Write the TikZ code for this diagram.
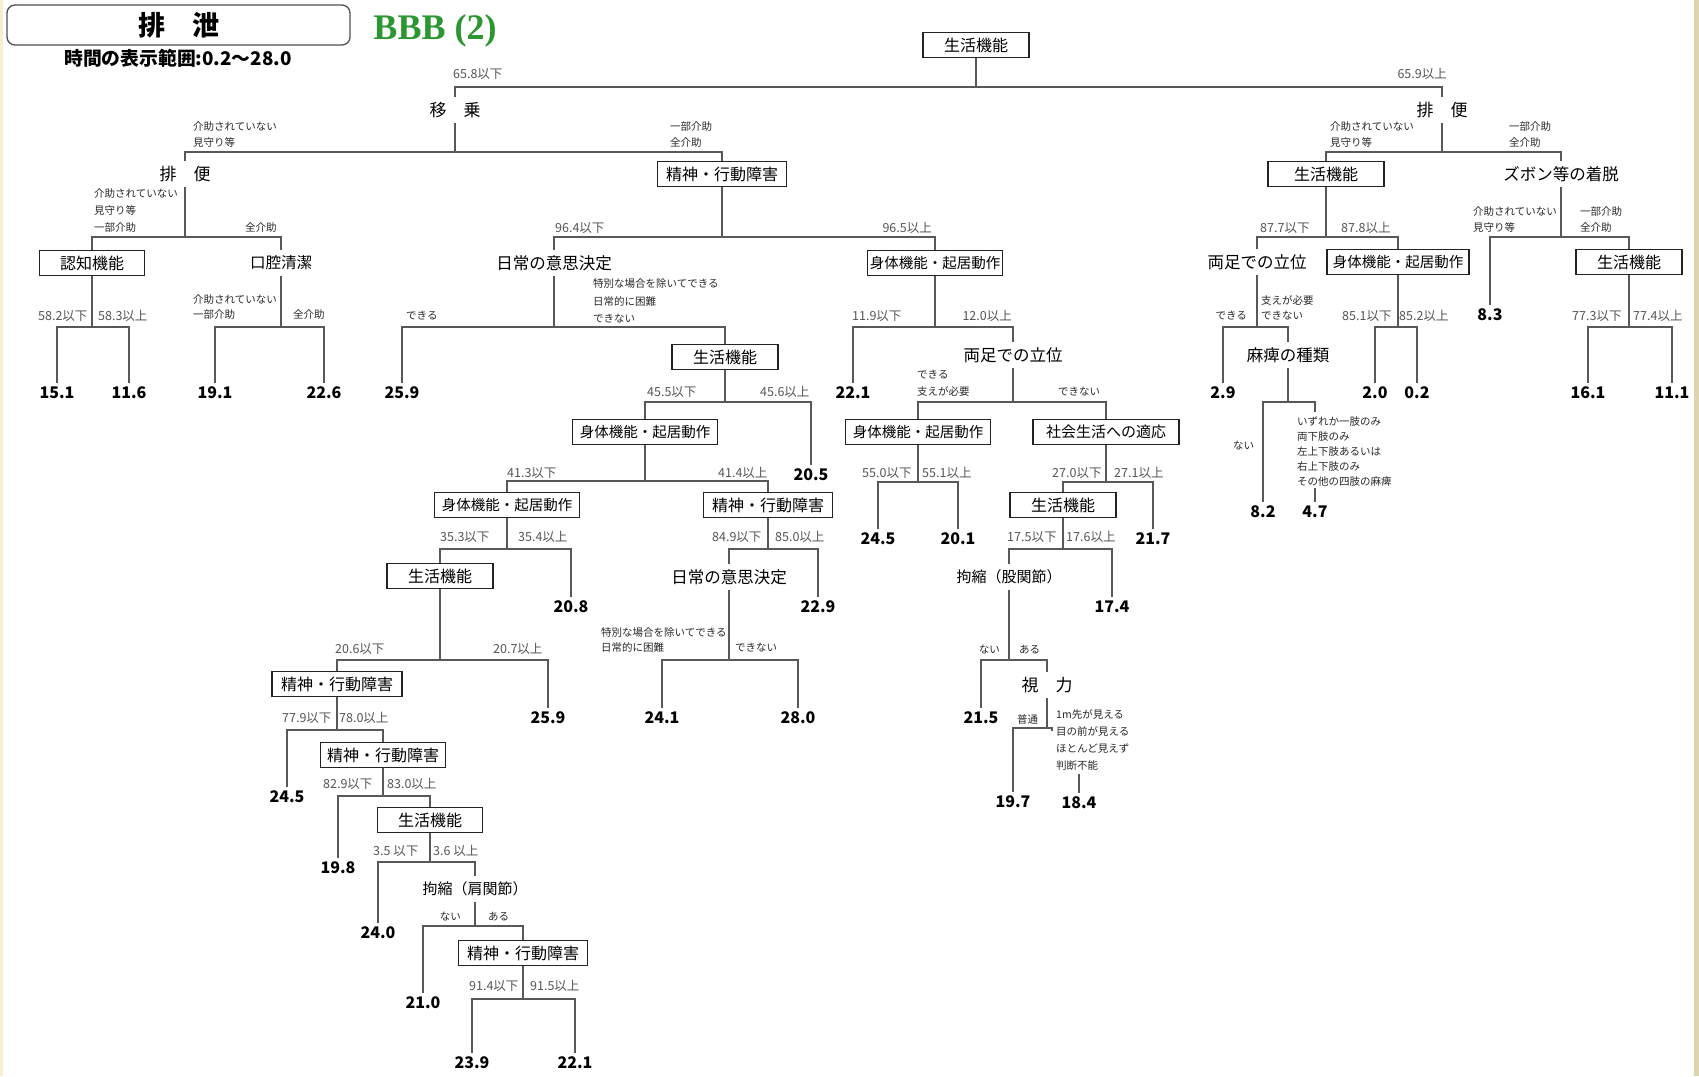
\documentclass[tikz,border=0pt]{standalone}
\usepackage{fontspec}
\newfontfamily\jp{Noto Sans CJK JP}
\newfontfamily\latinserif{Liberation Serif}
\newcommand\pxs[1]{\fontsize{#1}{#1}\selectfont}
\definecolor{linecol}{RGB}{88,88,88}
\definecolor{boxcol}{RGB}{35,35,35}
\definecolor{condcol}{RGB}{85,85,85}
\definecolor{notecol}{RGB}{40,40,40}
\definecolor{bbbgreen}{RGB}{44,150,48}
\definecolor{creamedge}{RGB}{250,238,210}
\definecolor{tanedge}{RGB}{222,212,178}
\tikzset{
  conn/.style={draw=linecol, line width=1.7pt},
  box/.style={draw=boxcol, line width=1.3pt, fill=white, minimum height=25pt, inner sep=0pt, font={\jp\pxs{16}}},
  boxs/.style={box, font={\jp\pxs{14.5}}},
  word/.style={inner sep=0pt, minimum height=26pt, font={\jp\pxs{16.5}}},
  leaf/.style={inner sep=0pt, minimum height=20pt, font={\jp\bfseries\pxs{16}}},
  cond/.style={inner sep=0pt, text=condcol, font={\jp\pxs{12.5}}},
  note/.style={inner sep=0pt, align=left, text=notecol, font={\jp\fontsize{10.5}{16}\selectfont}},
}
% parent -> junction, then left and right children hanging from it
\newcommand\branch[4]{%
  \draw[conn] (#1.south) -- (#2);
  \draw[conn] (#3.north) |- (#2) -| (#4.north);}
\begin{document}
\begin{tikzpicture}[x=1pt,y=-1pt]
\useasboundingbox (0,0) rectangle (1699,1076);
\fill[white] (0,0) rectangle (1699,1076);
\fill[creamedge] (0,0) rectangle (3,1076);
\fill[tanedge] (1694,0) rectangle (1699,1076);

% heading
\node[draw=boxcol!80, line width=1.3pt, rounded corners=8pt, minimum width=343pt, minimum height=40pt, inner sep=0pt, font={\jp\bfseries\pxs{27}}] (title) at (178.5,25) {排　泄};
\node[inner sep=0pt, font={\jp\bfseries\pxs{18.8}}] (range) at (178,58) {時間の表示範囲:0.2～28.0};
\node[inner sep=0pt, text=bbbgreen, font={\latinserif\bfseries\pxs{36}}] (tag) at (435,31) {BBB (2)};

% ---------- nodes ----------
\node[box, minimum width=106pt] (root) at (976,45) {生活機能};
\coordinate (j0) at (976,87);
\node[cond, anchor=west] (c0a) at (453,74) {65.8以下};
\node[cond, anchor=east] (c0b) at (1447,74) {65.9以上};

\node[word, font={\jp\pxs{17}}] (ijou) at (455,110) {移　乗};
\coordinate (j1) at (455,152);
\node[note, anchor=west] (n1a) at (193,135) {介助されていない\\見守り等};
\node[note, anchor=west] (n1b) at (670,135) {一部介助\\全介助};

\node[word, font={\jp\pxs{17}}] (haibenL) at (185,174) {排　便};
\coordinate (j2) at (185,237);
\node[note, anchor=west, font={\jp\fontsize{10.5}{17}\selectfont}] (n2a) at (94,211) {介助されていない\\見守り等\\一部介助};
\node[note, anchor=west] (n2b) at (245,228) {全介助};

\node[box, minimum width=105pt] (ninchi) at (92,263) {認知機能};
\coordinate (j3) at (92,327);
\node[cond, anchor=west] (c3a) at (38,316) {58.2以下};
\node[cond, anchor=west] (c3b) at (98,316) {58.3以上};
\node[leaf] (v151) at (57,393) {15.1};
\node[leaf] (v116) at (129,393) {11.6};

\node[word, font={\jp\pxs{15.5}}] (koukuu) at (281,263) {口腔清潔};
\coordinate (j4) at (281,327);
\node[note, anchor=west, font={\jp\fontsize{10.5}{15}\selectfont}] (n4a) at (193,307) {介助されていない\\一部介助};
\node[note, anchor=west] (n4b) at (293,315) {全介助};
\node[leaf] (v191) at (215,393) {19.1};
\node[leaf] (v226) at (324,393) {22.6};

\node[box, minimum width=129pt] (seishinA) at (722,174) {精神・行動障害};
\coordinate (j5) at (722,237);
\node[cond, anchor=west] (c5a) at (555,228) {96.4以下};
\node[cond, anchor=east] (c5b) at (932,228) {96.5以上};

\node[word] (nichijouA) at (554,263) {日常の意思決定};
\coordinate (j6) at (554,327);
\node[note, anchor=west] (n6a) at (406,316) {できる};
\node[note, anchor=west, font={\jp\fontsize{10.5}{17.5}\selectfont}] (n6b) at (593,301) {特別な場合を除いてできる\\日常的に困難\\できない};
\node[leaf] (v259a) at (402,393) {25.9};

\node[box, minimum width=106pt] (seikatsuA) at (725,357) {生活機能};
\coordinate (j7) at (725,402);
\node[cond, anchor=west] (c7a) at (647,392) {45.5以下};
\node[cond, anchor=west] (c7b) at (760,392) {45.6以上};
\node[leaf] (v205) at (811,475) {20.5};

\node[boxs, minimum width=145pt] (shintaiA) at (645,432) {身体機能・起居動作};
\coordinate (j8) at (645,481);
\node[cond, anchor=west] (c8a) at (507,473) {41.3以下};
\node[cond, anchor=west] (c8b) at (718,473) {41.4以上};

\node[boxs, minimum width=145pt] (shintaiB) at (507,505) {身体機能・起居動作};
\coordinate (j9) at (507,549);
\node[cond, anchor=west] (c9a) at (440,537) {35.3以下};
\node[cond, anchor=west] (c9b) at (518,537) {35.4以上};
\node[leaf] (v208) at (571,607) {20.8};

\node[box, minimum width=106pt] (seikatsuB) at (440,576) {生活機能};
\coordinate (j10) at (440,660);
\node[cond, anchor=west] (c10a) at (335,649) {20.6以下};
\node[cond, anchor=west] (c10b) at (493,649) {20.7以上};
\node[leaf] (v259b) at (548,718) {25.9};

\node[box, minimum width=130pt] (seishinB) at (337,684) {精神・行動障害};
\coordinate (j11) at (337,730);
\node[cond, anchor=west] (c11a) at (282,718) {77.9以下};
\node[cond, anchor=west] (c11b) at (339,718) {78.0以上};
\node[leaf] (v245a) at (287,797) {24.5};

\node[box, minimum width=125pt] (seishinC) at (383,755) {精神・行動障害};
\coordinate (j12) at (383,796);
\node[cond, anchor=west] (c12a) at (323,784) {82.9以下};
\node[cond, anchor=west] (c12b) at (387,784) {83.0以上};
\node[leaf] (v198) at (338,868) {19.8};

\node[box, minimum width=105pt] (seikatsuC) at (430,820) {生活機能};
\coordinate (j13) at (430,862);
\node[cond, anchor=west] (c13a) at (373,851) {3.5 以下};
\node[cond, anchor=west] (c13b) at (433,851) {3.6 以上};
\node[leaf] (v240) at (378,933) {24.0};

\node[word, font={\jp\pxs{15}}] (koushukuA) at (475,889) {拘縮（肩関節）};
\coordinate (j14) at (475,926);
\node[note, anchor=east] (n14a) at (461,917) {ない};
\node[note, anchor=west] (n14b) at (488,917) {ある};
\node[leaf] (v210) at (423,1003) {21.0};

\node[box, minimum width=129pt] (seishinD) at (523,953) {精神・行動障害};
\coordinate (j15) at (523,999);
\node[cond, anchor=west] (c15a) at (469,986) {91.4以下};
\node[cond, anchor=west] (c15b) at (530,986) {91.5以上};
\node[leaf] (v239) at (472,1063) {23.9};
\node[leaf] (v221a) at (575,1063) {22.1};

\node[box, minimum width=129pt] (seishinE) at (768,505) {精神・行動障害};
\coordinate (j16) at (768,549);
\node[cond, anchor=west] (c16a) at (712,537) {84.9以下};
\node[cond, anchor=west] (c16b) at (775,537) {85.0以上};
\node[leaf] (v229) at (818,607) {22.9};

\node[word] (nichijouB) at (729,577) {日常の意思決定};
\coordinate (j17) at (729,660);
\node[note, anchor=west, font={\jp\fontsize{10.5}{15}\selectfont}] (n17a) at (601,640) {特別な場合を除いてできる\\日常的に困難};
\node[note, anchor=west] (n17b) at (735,648) {できない};
\node[leaf] (v241) at (662,718) {24.1};
\node[leaf] (v280) at (798,718) {28.0};

\node[boxs, minimum width=135pt] (shintaiC) at (935,263) {身体機能・起居動作};
\coordinate (j18) at (935,327);
\node[cond, anchor=west] (c18a) at (852,316) {11.9以下};
\node[cond, anchor=east] (c18b) at (1012,316) {12.0以上};
\node[leaf] (v221b) at (853,393) {22.1};

\node[word] (ryouashiA) at (1013,355) {両足での立位};
\coordinate (j19) at (1013,402);
\node[note, anchor=west, font={\jp\fontsize{10.5}{17}\selectfont}] (n19a) at (917,383) {できる\\支えが必要};
\node[note, anchor=west] (n19b) at (1058,392) {できない};

\node[boxs, minimum width=145pt] (shintaiD) at (918,432) {身体機能・起居動作};
\coordinate (j20) at (918,482);
\node[cond, anchor=west] (c20a) at (862,473) {55.0以下};
\node[cond, anchor=west] (c20b) at (922,473) {55.1以上};
\node[leaf] (v245b) at (878,539) {24.5};
\node[leaf] (v201) at (958,539) {20.1};

\node[box, minimum width=146pt, font={\jp\pxs{15}}] (shakai) at (1106,432) {社会生活への適応};
\coordinate (j21) at (1106,482);
\node[cond, anchor=west] (c21a) at (1052,473) {27.0以下};
\node[cond, anchor=west] (c21b) at (1114,473) {27.1以上};
\node[leaf] (v217) at (1153,539) {21.7};

\node[box, minimum width=106pt] (seikatsuD) at (1063,505) {生活機能};
\coordinate (j22) at (1063,549);
\node[cond, anchor=west] (c22a) at (1007,537) {17.5以下};
\node[cond, anchor=west] (c22b) at (1066,537) {17.6以上};
\node[leaf] (v174) at (1112,607) {17.4};

\node[word, font={\jp\pxs{15}}] (koushukuB) at (1009,577) {拘縮（股関節）};
\coordinate (j23) at (1009,660);
\node[note, anchor=east] (n23a) at (1000,650) {ない};
\node[note, anchor=west] (n23b) at (1019,650) {ある};
\node[leaf] (v215) at (981,718) {21.5};

\node[word, font={\jp\pxs{17}}] (shiryoku) at (1047,685) {視　力};
\coordinate (j24) at (1047,728);
\coordinate (j24r) at (1052,731);
\node[note, anchor=west] (n24a) at (1017,719) {普通};
\node[note, anchor=west, font={\jp\fontsize{10.5}{17}\selectfont}] (n24b) at (1056,740) {1m先が見える\\目の前が見える\\ほとんど見えず\\判断不能};
\coordinate (t24) at (1079,774);
\node[leaf] (v197) at (1013,802) {19.7};
\node[leaf] (v184) at (1079,803) {18.4};

\node[word, font={\jp\pxs{17}}] (haibenR) at (1442,110) {排　便};
\coordinate (j25) at (1442,152);
\node[note, anchor=west] (n25a) at (1330,135) {介助されていない\\見守り等};
\node[note, anchor=west] (n25b) at (1509,135) {一部介助\\全介助};

\node[box, minimum width=116pt] (seikatsuE) at (1326,174) {生活機能};
\coordinate (j26) at (1326,237);
\node[cond, anchor=west] (c26a) at (1260,228) {87.7以下};
\node[cond, anchor=west] (c26b) at (1341,228) {87.8以上};

\node[word] (ryouashiB) at (1257,262) {両足での立位};
\coordinate (j27) at (1257,327);
\node[note, anchor=east] (n27a) at (1247,316) {できる};
\node[note, anchor=west, font={\jp\fontsize{10.5}{15}\selectfont}] (n27b) at (1261,308) {支えが必要\\できない};
\node[leaf] (v29) at (1223,393) {2.9};

\node[word] (mahi) at (1288,355) {麻痺の種類};
\coordinate (j28) at (1288,402);
\coordinate (j28r) at (1315,412);
\node[note, anchor=west] (n28a) at (1233,446) {ない};
\node[note, anchor=west, font={\jp\fontsize{10.5}{15}\selectfont}] (n28b) at (1297,452) {いずれか一肢のみ\\両下肢のみ\\左上下肢あるいは\\右上下肢のみ\\その他の四肢の麻痺};
\coordinate (t28) at (1315,488);
\node[leaf] (v82) at (1263,512) {8.2};
\node[leaf] (v47) at (1315,512) {4.7};

\node[boxs, minimum width=142pt] (shintaiE) at (1398,262) {身体機能・起居動作};
\coordinate (j29) at (1398,327);
\node[cond, anchor=west] (c29a) at (1342,316) {85.1以下};
\node[cond, anchor=west] (c29b) at (1399,316) {85.2以上};
\node[leaf] (v20) at (1375,393) {2.0};
\node[leaf] (v02) at (1417,393) {0.2};

\node[word] (zubon) at (1561,174) {ズボン等の着脱};
\coordinate (j30) at (1561,237);
\node[note, anchor=west] (n30a) at (1473,220) {介助されていない\\見守り等};
\node[note, anchor=west] (n30b) at (1580,220) {一部介助\\全介助};
\node[leaf] (v83) at (1490,315) {8.3};

\node[box, minimum width=106pt] (seikatsuF) at (1629,262) {生活機能};
\coordinate (j31) at (1629,327);
\node[cond, anchor=west] (c31a) at (1572,316) {77.3以下};
\node[cond, anchor=west] (c31b) at (1633,316) {77.4以上};
\node[leaf] (v161) at (1588,393) {16.1};
\node[leaf] (v111) at (1672,393) {11.1};

% ---------- connectors ----------
\branch{root}{j0}{ijou}{haibenR}
\branch{ijou}{j1}{haibenL}{seishinA}
\branch{haibenL}{j2}{ninchi}{koukuu}
\branch{ninchi}{j3}{v151}{v116}
\branch{koukuu}{j4}{v191}{v226}
\branch{seishinA}{j5}{nichijouA}{shintaiC}
\branch{nichijouA}{j6}{v259a}{seikatsuA}
\branch{seikatsuA}{j7}{shintaiA}{v205}
\branch{shintaiA}{j8}{shintaiB}{seishinE}
\branch{shintaiB}{j9}{seikatsuB}{v208}
\branch{seikatsuB}{j10}{seishinB}{v259b}
\branch{seishinB}{j11}{v245a}{seishinC}
\branch{seishinC}{j12}{v198}{seikatsuC}
\branch{seikatsuC}{j13}{v240}{koushukuA}
\branch{koushukuA}{j14}{v210}{seishinD}
\branch{seishinD}{j15}{v239}{v221a}
\branch{seishinE}{j16}{nichijouB}{v229}
\branch{nichijouB}{j17}{v241}{v280}
\branch{shintaiC}{j18}{v221b}{ryouashiA}
\branch{ryouashiA}{j19}{shintaiD}{shakai}
\branch{shintaiD}{j20}{v245b}{v201}
\branch{shakai}{j21}{seikatsuD}{v217}
\branch{seikatsuD}{j22}{koushukuB}{v174}
\branch{koushukuB}{j23}{v215}{shiryoku}
\draw[conn] (shiryoku.south) -- (j24);
\draw[conn] (v197.north) |- (j24) -| (j24r);
\draw[conn] (t24) -- (v184.north);
\branch{haibenR}{j25}{seikatsuE}{zubon}
\branch{seikatsuE}{j26}{ryouashiB}{shintaiE}
\branch{ryouashiB}{j27}{v29}{mahi}
\draw[conn] (mahi.south) -- (j28);
\draw[conn] (v82.north) |- (j28) -| (j28r);
\draw[conn] (t28) -- (v47.north);
\branch{shintaiE}{j29}{v20}{v02}
\branch{zubon}{j30}{v83}{seikatsuF}
\branch{seikatsuF}{j31}{v161}{v111}
\end{tikzpicture}
\end{document}
